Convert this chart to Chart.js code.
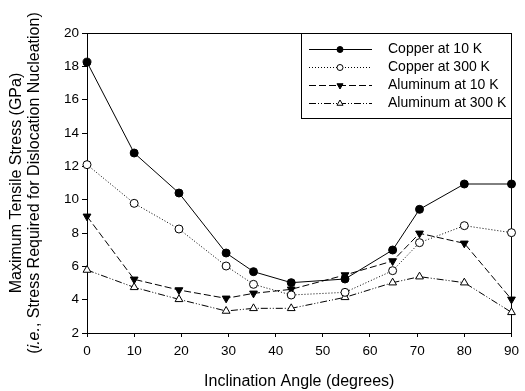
<!DOCTYPE html>
<html lang="en">
<head>
<meta charset="utf-8"/>
<title>Maximum Tensile Stress vs Inclination Angle</title>
<script src="https://cdn.jsdelivr.net/npm/chart.js"></script>
<style>
  html,body{margin:0;padding:0;background:#fff}
  #wrap{width:525px;height:391px;position:relative}
</style>
</head>
<body>
<div id="wrap"><canvas id="chart"></canvas></div>
<script>
// ---- data: stress (GPa) at each inclination angle (degrees) ----
const angles    = [0, 10, 19.5, 29.5, 35.3, 43.3, 54.7, 64.8, 70.5, 80, 90];
const copper10  = [18.25, 12.8, 10.4, 6.8, 5.68, 5.02, 5.24, 6.98, 9.42, 10.94, 10.94];
const copper300 = [12.1, 9.78, 8.24, 6.02, 4.92, 4.28, 4.44, 5.74, 7.42, 8.44, 8.02];
const alu10     = [9.0, 5.22, 4.58, 4.08, 4.38, 4.62, 5.48, 6.32, 7.98, 7.38, 4.02];
const alu300    = [5.78, 4.74, 4.02, 3.32, 3.48, 3.48, 4.14, 5.02, 5.38, 5.02, 3.24];
const seriesNames = ['Copper at 10 K', 'Copper at 300 K', 'Aluminum at 10 K', 'Aluminum at 300 K'];
const xTicks = [0, 10, 20, 30, 40, 50, 60, 70, 80, 90];
const yTicks = [2, 4, 6, 8, 10, 12, 14, 16, 18, 20];

const FONT = "'Liberation Sans', Arial, sans-serif";
Chart.defaults.font.family = FONT;
Chart.defaults.font.size = 14;
Chart.defaults.color = '#000';

const pts = ys => angles.map((x, i) => ({x, y: ys[i]}));

// marker + line style per series
const styles = [
  {pointStyle: 'circle',   fill: '#000', rotation: 0,   dash: [],                 radius: 4},
  {pointStyle: 'circle',   fill: '#fff', rotation: 0,   dash: [1, 2],             radius: 4},
  {pointStyle: 'triangle', fill: '#000', rotation: 180, dash: [7, 3],             radius: 4.5},
  {pointStyle: 'triangle', fill: '#fff', rotation: 0,   dash: [7, 2, 1, 2, 1, 2], radius: 4.5}
];
const series = [copper10, copper300, alu10, alu300];

const datasets = series.map((ys, i) => ({
  label: seriesNames[i],
  data: pts(ys),
  showLine: true,
  borderColor: '#000',
  borderWidth: 1,
  borderDash: styles[i].dash,
  pointStyle: styles[i].pointStyle,
  pointRotation: styles[i].rotation,
  pointRadius: styles[i].radius,
  pointBackgroundColor: styles[i].fill,
  pointBorderColor: '#000',
  pointBorderWidth: 1,
  tension: 0,
  clip: false
}));

// full box around the plot area
const frame = {
  id: 'frame',
  beforeDatasetsDraw(chart) {
    const {ctx, chartArea: a} = chart;
    ctx.save();
    ctx.strokeStyle = '#000';
    ctx.lineWidth = 1;
    ctx.strokeRect(Math.round(a.left) + 0.5, Math.round(a.top) + 0.5,
                   Math.round(a.right - a.left), Math.round(a.bottom - a.top));
    ctx.restore();
  }
};

// axis titles (y title has an italic "i.e.")
const titles = {
  id: 'titles',
  afterDraw(chart) {
    const {ctx, chartArea: a} = chart;
    ctx.save();
    ctx.fillStyle = '#000';
    ctx.textBaseline = 'middle';
    ctx.textAlign = 'center';
    ctx.font = `16px ${FONT}`;
    ctx.fillText('Inclination Angle (degrees)', (a.left + a.right) / 2, 382);

    const cy = (a.top + a.bottom) / 2;
    ctx.translate(17, cy);
    ctx.rotate(-Math.PI / 2);
    ctx.fillText('Maximum Tensile Stress (GPa)', 0, 0);
    ctx.restore();

    // second line, built from pieces
    const parts = [['(', false], ['i.e.', true], [', Stress Required for Dislocation Nucleation)', false]];
    ctx.save();
    ctx.fillStyle = '#000';
    ctx.textBaseline = 'middle';
    ctx.textAlign = 'left';
    let total = 0;
    parts.forEach(([t, it]) => { ctx.font = `${it ? 'italic ' : ''}16px ${FONT}`; total += ctx.measureText(t).width; });
    ctx.translate(35, cy);
    ctx.rotate(-Math.PI / 2);
    let x = -total / 2;
    parts.forEach(([t, it]) => {
      ctx.font = `${it ? 'italic ' : ''}16px ${FONT}`;
      ctx.fillText(t, x, 0);
      x += ctx.measureText(t).width;
    });
    ctx.restore();
  }
};

// boxed legend in the upper right corner
const boxLegend = {
  id: 'boxLegend',
  afterDraw(chart) {
    const {ctx, chartArea: a} = chart;
    const left = 301, top = Math.round(a.top), right = Math.round(a.right), bottom = 118;
    ctx.save();
    ctx.fillStyle = '#fff';
    ctx.fillRect(left, top, right - left, bottom - top);
    ctx.strokeStyle = '#000';
    ctx.lineWidth = 1;
    ctx.strokeRect(left + 0.5, top + 0.5, right - left, bottom - top);
    ctx.font = `14px ${FONT}`;
    ctx.textBaseline = 'middle';
    ctx.textAlign = 'left';
    seriesNames.forEach((name, i) => {
      const y = 49 + i * 18 + 0.5;
      const s = styles[i];
      ctx.setLineDash(s.dash);
      ctx.beginPath();
      ctx.moveTo(309, y);
      ctx.lineTo(372, y);
      ctx.stroke();
      ctx.setLineDash([]);
      ctx.fillStyle = s.fill;
      ctx.strokeStyle = '#000';
      Chart.helpers.drawPoint(ctx, {pointStyle: s.pointStyle, radius: s.radius - 1, rotation: s.rotation, borderWidth: 1}, 340, y);
      ctx.fillStyle = '#000';
      ctx.fillText(name, 388, y);
    });
    ctx.restore();
  }
};

new Chart(document.getElementById('chart'), {
  type: 'scatter',
  data: {datasets},
  plugins: [frame, titles, boxLegend],
  options: {
    responsive: true,
    maintainAspectRatio: false,
    animation: false,
    events: [],
    layout: {padding: {top: 33, right: 7, left: 0, bottom: 0}, autoPadding: false},
    plugins: {legend: {display: false}, tooltip: {enabled: false}},
    scales: {
      x: {
        type: 'linear', min: 0, max: 90,
        afterBuildTicks: s => { s.ticks = xTicks.map(v => ({value: v})); },
        afterFit: s => { s.height = 58; },
        grid: {drawOnChartArea: false, drawTicks: true, tickLength: 4, color: '#000'},
        border: {display: true, color: '#000', width: 1},
        ticks: {padding: 6, maxRotation: 0, autoSkip: false, font: {size: 13.5}}
      },
      y: {
        type: 'linear', min: 2, max: 20,
        afterBuildTicks: s => { s.ticks = yTicks.map(v => ({value: v})); },
        afterFit: s => { s.width = 87; },
        grid: {drawOnChartArea: false, drawTicks: true, tickLength: 5, color: '#000'},
        border: {display: true, color: '#000', width: 1},
        ticks: {padding: 3, autoSkip: false, font: {size: 13.5}}
      }
    }
  }
});
</script>
</body>
</html>
